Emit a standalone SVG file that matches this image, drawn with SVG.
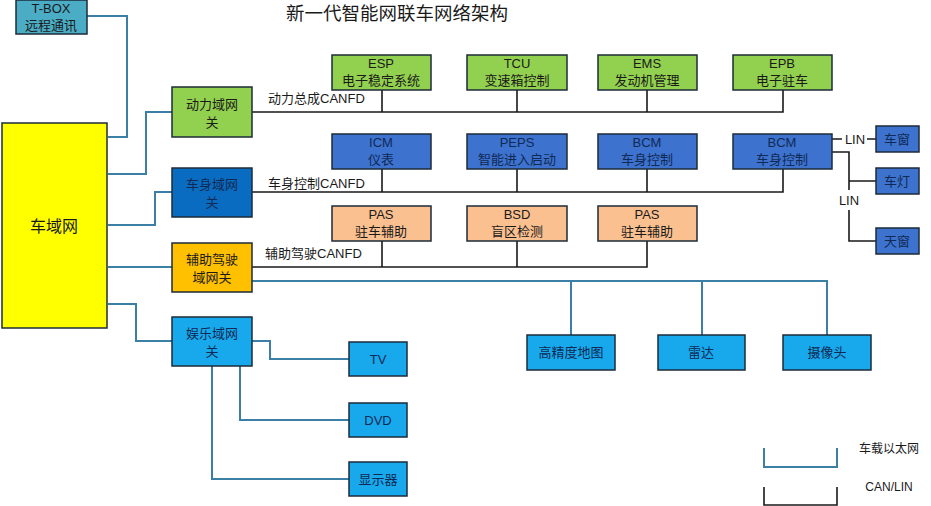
<svg xmlns="http://www.w3.org/2000/svg" width="931" height="506" viewBox="0 0 931 506">
<style>
text{font-family:"Liberation Sans","Noto Sans CJK SC",sans-serif;font-size:13px;fill:#1a1a1a;text-anchor:middle;dominant-baseline:central}
.box{stroke:#1d2b38;stroke-width:1.5}
.eth{fill:none;stroke:#3b7ea6;stroke-width:2}
.can{fill:none;stroke:#1a1a1a;stroke-width:1.6}
.lbl{text-anchor:start}
.tb{fill:#4BACC6}.gr{fill:#92D050}.db{fill:#0A6CC0}.mb{fill:#3D72CE}.ye{fill:#FFFF00}.og{fill:#FFC000}.lo{fill:#FAC090}.lb{fill:#17A9EC}
.bt{fill:#102a55}
</style>
<text x="397" y="13" style="font-size:18.5px">新一代智能网联车网络架构</text>
<g id="connectors">
<path class="eth" d="M87 16H127V137H108"/>
<path class="eth" d="M108 174H146V112H172"/>
<path class="eth" d="M108 225H155V192H172"/>
<path class="eth" d="M108 267H172"/>
<path class="eth" d="M108 304H136V341H172"/>
<path class="eth" d="M252 341H270V359H349"/>
<path class="eth" d="M240 366V420H349"/>
<path class="eth" d="M212 366V479H349"/>
<path class="eth" d="M252 281H827V335M571 281V335M702 281V335"/>
<path class="can" d="M252 112H783V90M382 90V112M517 90V112M647 90V112"/>
<path class="can" d="M252 192H783V169M382 169V192M517 169V192M647 169V192"/>
<path class="can" d="M252 267H647V241M382 241V267M517 241V267"/>
<path class="can" d="M832 139H842M867 139H876"/>
<path class="can" d="M832 152H849V190M849 210V241H876M849 181H876"/>
<path class="eth" d="M764 448V467H837V448"/>
<path class="can" d="M764 487V505H837V487"/>
</g>
<text class="lbl" x="268" y="98">动力总成CANFD</text>
<text class="lbl" x="268" y="183">车身控制CANFD</text>
<text class="lbl" x="265" y="253">辅助驾驶CANFD</text>
<text x="855" y="139">LIN</text>
<text x="849" y="200">LIN</text>
<text x="889" y="449" style="font-size:12px">车载以太网</text>
<text x="889" y="487" style="font-size:12px">CAN/LIN</text>
<g id="tbox"><rect class="box tb" x="16" y="0" width="71" height="34"/><text x="51" y="8">T-BOX</text><text x="51" y="25">远程通讯</text></g>
<g id="car"><rect class="box ye" x="2" y="123" width="105" height="205"/><text x="54" y="226" style="font-size:16px">车域网</text></g>
<g id="gw-power"><rect class="box gr" x="172" y="87" width="80" height="50"/><text x="212" y="104">动力域网</text><text x="212" y="122">关</text></g>
<g id="gw-body"><rect class="box db" x="172" y="168" width="80" height="49"/><text class="bt" x="212" y="184">车身域网</text><text class="bt" x="212" y="202">关</text></g>
<g id="gw-adas"><rect class="box og" x="172" y="243" width="80" height="49"/><text x="212" y="259">辅助驾驶</text><text x="212" y="277">域网关</text></g>
<g id="gw-ent"><rect class="box lb" x="172" y="317" width="80" height="49"/><text class="bt" x="212" y="333">娱乐域网</text><text class="bt" x="212" y="351">关</text></g>
<g id="esp"><rect class="box gr" x="332" y="55" width="99" height="35"/><text x="381" y="63">ESP</text><text x="381" y="80">电子稳定系统</text></g>
<g id="tcu"><rect class="box gr" x="467" y="55" width="100" height="35"/><text x="517" y="63">TCU</text><text x="517" y="80">变速箱控制</text></g>
<g id="ems"><rect class="box gr" x="598" y="55" width="99" height="35"/><text x="647" y="63">EMS</text><text x="647" y="80">发动机管理</text></g>
<g id="epb"><rect class="box gr" x="733" y="55" width="99" height="35"/><text x="782" y="63">EPB</text><text x="782" y="80">电子驻车</text></g>
<g id="icm"><rect class="box mb" x="332" y="134" width="99" height="35"/><text class="bt" x="381" y="142">ICM</text><text class="bt" x="381" y="159">仪表</text></g>
<g id="peps"><rect class="box mb" x="467" y="134" width="100" height="35"/><text class="bt" x="517" y="142">PEPS</text><text class="bt" x="517" y="159">智能进入启动</text></g>
<g id="bcm1"><rect class="box mb" x="598" y="134" width="99" height="35"/><text class="bt" x="647" y="142">BCM</text><text class="bt" x="647" y="159">车身控制</text></g>
<g id="bcm2"><rect class="box mb" x="733" y="134" width="99" height="35"/><text class="bt" x="782" y="142">BCM</text><text class="bt" x="782" y="159">车身控制</text></g>
<g id="pas1"><rect class="box lo" x="332" y="206" width="99" height="35"/><text x="381" y="214">PAS</text><text x="381" y="231">驻车辅助</text></g>
<g id="bsd"><rect class="box lo" x="467" y="206" width="100" height="35"/><text x="517" y="214">BSD</text><text x="517" y="231">盲区检测</text></g>
<g id="pas2"><rect class="box lo" x="598" y="206" width="99" height="35"/><text x="647" y="214">PAS</text><text x="647" y="231">驻车辅助</text></g>
<g id="window"><rect class="box mb" x="876" y="126" width="43" height="26"/><text class="bt" x="897" y="139">车窗</text></g>
<g id="light"><rect class="box mb" x="876" y="168" width="43" height="26"/><text class="bt" x="897" y="181">车灯</text></g>
<g id="sunroof"><rect class="box mb" x="876" y="228" width="43" height="26"/><text class="bt" x="897" y="241">天窗</text></g>
<g id="hdmap"><rect class="box lb" x="527" y="335" width="88" height="35"/><text class="bt" x="571" y="352">高精度地图</text></g>
<g id="radar"><rect class="box lb" x="658" y="335" width="87" height="35"/><text class="bt" x="701" y="352">雷达</text></g>
<g id="camera"><rect class="box lb" x="783" y="335" width="88" height="35"/><text class="bt" x="827" y="352">摄像头</text></g>
<g id="tv"><rect class="box lb" x="349" y="342" width="58" height="34"/><text class="bt" x="378" y="359">TV</text></g>
<g id="dvd"><rect class="box lb" x="349" y="403" width="58" height="34"/><text class="bt" x="378" y="420">DVD</text></g>
<g id="display"><rect class="box lb" x="349" y="462" width="58" height="34"/><text class="bt" x="378" y="479">显示器</text></g>
</svg>
